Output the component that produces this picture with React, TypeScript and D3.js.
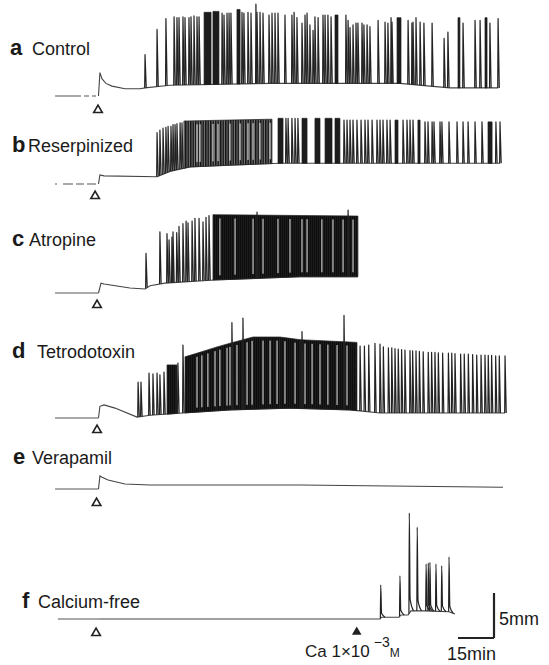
import React from "react";
import * as d3 from "d3";

// time: min after the stimulus (open triangle); tension: mm above resting level
const letters = ["a", "b", "c", "d", "e", "f"];
const names = ["Control", "Reserpinized", "Atropine", "Tetrodotoxin", "Verapamil", "Calcium-free"];
const stimulusTimes = [0, -1.2, -0.4, -0.4, -0.6, -0.8];
const calciumTime = 107.8;

// resting level knots [t, mm]
const baseA = [[-17.9, 0], [0.2, 0], [0.8, 2.6], [1.7, 1.9], [3.3, 1.4], [5.8, 1.1], [11.25, 0.8], [17.5, 0.8], [19.6, 0.9], [30, 1.2], [71.7, 1.4], [125.8, 1.4], [138.3, 1.1], [146.7, 0.9], [166.7, 0.9]];
const baseB = [[-17.9, 0], [0.2, 0], [0.8, 1.0], [2.5, 0.9], [24.6, 0.8], [30, 1.4], [38.3, 1.9], [55, 2.1], [75.8, 2.3], [167.5, 2.3]];
const baseC = [[-17.9, 0], [0.2, 0], [1.25, 1.1], [2.5, 1.0], [13.3, 0.55], [19.6, 0.45], [21.7, 0.8], [27.9, 1.1], [48.75, 1.45], [84.2, 1.8], [108.3, 1.8]];
const baseD = [[-17.9, 0], [0.2, 0], [0.8, 1.3], [2.5, 1.45], [7.1, 1.1], [16.25, 0.1], [21.7, 0.3], [35.4, 0.55], [55, 0.9], [80, 1.1], [105, 0.9], [117.5, 0.55], [169.6, 0.55]];
const baseE = [[-17.9, 0], [0.2, 0], [0.8, 1.45], [1.7, 1.3], [4.2, 1.0], [11.25, 0.55], [21.7, 0.45], [84.2, 0.45], [168.75, 0.2]];
const baseF = [[-16.7, 0], [117.5, 0], [118.1, 0.2], [125.4, 0.2], [126.25, 0.45], [129.2, 0.45], [130.4, 0.9], [136.25, 0.9], [146.25, 0.8], [148.75, 0.55]];

// single contractions [t, peak mm]
const spikesA = [
  [19.6, 4.6], [24.6, 7.4], [28.3, 8.6], [31.7, 8.8], [32.9, 8.7], [33.75, 8.7], [35.4, 8.8], [36.25, 8.7], [37.9, 8.7], [38.75, 8.8], [40, 8.9], [41.25, 8.8], [42.1, 8.8],
  [51.7, 9.2], [52.5, 9.0], [53.75, 9.2], [54.6, 9.2], [55.4, 9.2],
  [60, 9.3], [60.8, 9.2], [62.5, 9.3], [63.75, 9.2], [65.8, 10.2], [66.25, 9.3], [67.5, 9.3], [68.75, 9.2], [71.25, 9.0], [72.5, 9.2], [73.75, 9.2], [75, 9.2], [77.9, 9.0], [80.8, 9.0], [81.7, 9.3], [82.9, 8.7], [85, 8.1], [86.25, 9.0], [87.1, 9.2], [88.3, 7.9], [89.6, 7.3], [90.4, 8.8], [91.7, 8.7], [93.75, 9.0], [94.6, 9.0], [95.8, 9.0], [97.1, 8.8],
  [103.3, 9.0], [104.2, 8.4], [105, 7.6], [106.25, 7.9], [107.5, 8.1], [108.3, 8.1], [110, 8.1], [110.8, 7.9], [112.1, 7.9], [113.3, 7.7], [116.7, 8.4], [119.6, 8.2], [120.8, 8.1], [122.1, 8.7], [122.5, 8.2],
  [129.2, 8.4], [130.8, 8.1], [131.25, 8.2], [132.5, 8.7], [134.2, 8.2], [135.8, 8.1], [139.2, 8.1], [144.2, 6.4], [145.8, 7.1], [152.1, 8.1], [157.1, 8.4], [159.2, 8.4], [163.3, 8.1], [166.7, 8.6],
];
const spikesB = [
  [24.6, 5.7], [25.8, 6.0], [27.1, 6.2], [28.3, 6.3], [29.2, 6.4], [30.4, 6.4], [31.25, 6.6], [32.1, 6.6], [32.9, 6.7], [34.2, 6.8], [35, 6.8],
  [78.3, 7.3], [79.2, 7.3], [80.8, 7.3], [82.1, 7.3], [83.3, 7.3],
  [102.5, 7.1], [103.75, 7.1], [105, 7.1], [106.25, 7.1], [107.9, 7.1], [109.6, 7.1], [111.25, 7.1], [112.5, 7.1], [114.2, 7.1], [116.25, 7.1], [117.5, 7.1], [118.75, 7.1], [120.4, 7.1], [121.7, 7.1],
  [127.1, 7.1], [128.75, 7.1], [130, 7.1], [131.25, 7.1],
  [136.25, 6.9], [137.5, 6.9], [139.2, 6.9], [140, 6.9], [142.5, 6.9], [143.3, 6.9], [146.25, 6.9], [149.6, 6.9], [152.1, 6.9], [154.2, 6.9], [157.1, 6.9], [160, 6.9], [165.8, 6.9], [167.5, 6.9],
];
const spikesC = [
  [20, 4.4], [25.8, 6.8], [28.75, 6.6], [29.6, 5.9], [30.8, 6.2], [31.25, 6.8], [32.8, 6.7], [33.75, 7.4], [35.4, 7.7], [36.7, 8.0], [37.5, 7.8], [39.2, 8.0], [40.4, 8.3], [42.1, 8.3], [43.75, 7.9], [45, 8.4], [46.25, 8.6],
  [66.25, 9.0], [104.2, 9.2],
];
const spikesD = [
  [16.7, 4.0], [17.9, 4.0], [21.25, 5.0], [22.9, 4.9], [24.6, 5.0], [25.8, 4.8], [27.5, 5.1], [33.3, 6.1], [35.4, 8.1],
  [55.8, 10.6], [60.4, 11.1], [85, 9.6], [102.5, 11.4],
  [109.2, 8.0], [111, 8.0], [112.8, 8.1], [115.4, 8.3], [117.5, 8.2], [118.9, 7.9], [121, 7.8], [122.4, 7.8], [123.75, 7.7], [125.1, 7.65], [126.5, 7.6], [127.9, 7.55], [130, 7.5], [131.1, 7.45], [132.5, 7.45], [133.9, 7.4], [135.5, 7.35], [137.6, 7.3], [139, 7.3], [140.4, 7.3], [141.8, 7.25], [143.6, 7.2], [146, 7.2], [147.4, 7.2], [148.75, 7.15], [151.1, 7.1], [152.6, 7.1], [154.3, 7.1], [156.1, 7.05], [157.8, 7.0], [159.6, 7.0], [161.25, 7.0], [162.6, 6.95], [164, 6.95], [165.7, 6.9], [167.2, 6.9], [169.6, 6.9],
];
const spikesE: number[][] = [];
const spikesF = [[117.8, 3.8], [125.8, 4.8], [129.7, 11.8], [133, 10.2], [136.7, 6.1], [137.6, 6.2], [138.3, 6.3], [140.8, 6.1], [143.2, 5.9], [146.25, 6.9]];

// fused runs of contractions [t start, t end, top mm at start, top mm at end]
const burstsA = [[44.2, 47.1, 9.3, 9.3], [47.9, 50.4, 9.4, 9.4], [57.9, 59.2, 9.6, 9.6], [98.75, 100, 9.0, 9.0], [124.6, 126.25, 8.7, 8.7], [150, 150.8, 8.7, 8.7], [161.25, 162.1, 8.7, 8.7]];
const burstsB = [[35.8, 72.5, 7.0, 7.2], [75, 77.1, 7.3, 7.3], [85, 87.1, 7.3, 7.3], [90.4, 92.5, 7.3, 7.3], [94.6, 97.5, 7.3, 7.3], [98.75, 100.8, 7.3, 7.3], [123.75, 125, 7.1, 7.1], [133.3, 134.2, 7.1, 7.1], [162.5, 164.2, 6.9, 6.9]];
const burstsC = [[47.9, 108.3, 8.7, 8.55]];
const burstsD = [[28.75, 32.9, 5.9, 5.9], [36.25, 42.5, 6.8, 7.3], [42.5, 49.6, 7.3, 7.9], [49.6, 56.25, 7.9, 8.4], [56.25, 64.6, 8.4, 9.0], [64.6, 75.8, 9.0, 9.0], [75.8, 84.2, 9.0, 8.7], [84.2, 107.9, 8.7, 8.4]];
const burstsE: number[][] = [];
const burstsF: number[][] = [];

// pauses inside fused runs [t]
const gapsA: number[] = [];
const gapsB = [41.25, 42.5, 47.9, 50, 55, 59.2, 62.5, 64.6, 67.5, 71.7];
const gapsC = [50.8, 57.1, 64.6, 68.75, 75, 80, 85, 87.1, 93.3, 97.9, 102.1, 106.25];
const gapsD = [41.25, 43.3, 45.8, 48.75, 50.8, 53.75, 55, 57.9, 62.1, 64.2, 68.75, 71.7, 74.6, 77.9, 82.1, 86.25, 89.2, 92.5, 95.8, 99.6, 103.75];
const gapsE: number[] = [];
const gapsF: number[] = [];

const bases = [baseA, baseB, baseC, baseD, baseE, baseF];
const spikes = [spikesA, spikesB, spikesC, spikesD, spikesE, spikesF];
const bursts = [burstsA, burstsB, burstsC, burstsD, burstsE, burstsF];
const gaps = [gapsA, gapsB, gapsC, gapsD, gapsE, gapsF];

const FONT = "'Liberation Sans', Arial, Helvetica, sans-serif";

export default function App() {
  const W = 549;
  const H = 665;
  const stimX = 98;
  const pxPerMin = 2.4;
  const pxPerMm = 9;
  const x = d3.scaleLinear().domain([0, 15]).range([stimX, stimX + 15 * pxPerMin]);

  const rows = [
    { y0: 96, labelY: 55, letterX: 10, nameX: 32, markY: 110, fill: "url(#denseDark)", dash: "26 3 5 3 4 3" },
    { y0: 184, labelY: 152, letterX: 12, nameX: 28, markY: 196, fill: "url(#denseGrey)", dash: "2 6 10 3 8 3 9 3" },
    { y0: 293, labelY: 246, letterX: 12, nameX: 29, markY: 305, fill: "url(#denseDark)", dash: "" },
    { y0: 418, labelY: 358, letterX: 12, nameX: 37, markY: 430, fill: "url(#denseDark)", dash: "" },
    { y0: 489, labelY: 464, letterX: 13, nameX: 32, markY: 503, fill: "#222", dash: "" },
    { y0: 619, labelY: 608, letterX: 22, nameX: 38, markY: 633, fill: "#222", dash: "" },
  ];

  const ink = "#222";
  const tri = d3.symbol(d3.symbolTriangle, 32)();
  const triFilled = d3.symbol(d3.symbolTriangle, 40)();

  return (
    <svg width={W} height={H} style={{ position: "absolute", left: 0, top: 0, background: "#fff" }} fontFamily={FONT}>
      <defs>
        <pattern id="denseDark" patternUnits="userSpaceOnUse" width={2} height={10}>
          <rect width={2} height={10} fill="#333" />
          <rect width={1.6} height={10} fill="#0d0d0d" />
        </pattern>
        <pattern id="denseGrey" patternUnits="userSpaceOnUse" width={2.5} height={10}>
          <rect width={2.5} height={10} fill="#777" />
          <rect width={1.5} height={10} fill="#151515" />
        </pattern>
      </defs>
      <rect width={W} height={H} fill="#fff" />
      {rows.map((r, i) => {
        const y = d3.scaleLinear().domain([0, 5]).range([r.y0, r.y0 - 5 * pxPerMm]);
        const knots = bases[i];
        const base = d3.scaleLinear().domain(knots.map((k) => k[0])).range(knots.map((k) => k[1])).clamp(true);
        const line = d3.line<number[]>().x((d) => x(d[0])).y((d) => y(d[1]));
        const isF = i === 5;
        const cut = [0.2, base(0.2)];
        const pre = [...knots.filter((k) => k[0] < 0.2), cut];
        const post = [cut, ...knots.filter((k) => k[0] > 0.2)];
        const spikePath = (t: number, peak: number) => {
          if (isF) {
            const b = base(t + 1.8);
            return d3.line<number[]>().x((d) => x(d[0])).y((d) => y(d[1])).curve(d3.curveMonotoneX)([
              [t - 0.15, base(t - 0.15)], [t, peak], [t + 0.35, b + (peak - b) * 0.12], [t + 1.8, b],
            ]);
          }
          return line([[t - 0.15, base(t - 0.15)], [t, peak], [t + 0.5, base(t + 0.5)]]);
        };
        const burstArea = (bst: number[]) => {
          const [t0, t1, a0, a1] = bst;
          const top = d3.scaleLinear().domain([t0, t1]).range([a0, a1]);
          const ts = [t0, ...knots.map((k) => k[0]).filter((t) => t > t0 && t < t1), t1];
          return d3.area<number>().x((t) => x(t)).y0((t) => y(base(t))).y1((t) => y(top(t)))(ts);
        };
        const topAt = (t: number) => {
          const b = bursts[i].find((bs) => t >= bs[0] && t <= bs[1]);
          if (!b) return null;
          return d3.scaleLinear().domain([b[0], b[1]]).range([b[2], b[3]])(t);
        };
        const bigBurst = (b: number[]) => b[1] - b[0] > 3.5;
        return (
          <g key={i}>
            <text x={r.letterX} y={r.labelY} fontSize={22} fontWeight="bold" fill="#1a1a1a">{letters[i]}</text>
            <text x={r.nameX} y={r.labelY} fontSize={18} fill="#1a1a1a">{names[i]}</text>
            <path d={line(pre) || ""} fill="none" stroke="#555" strokeWidth={1.1} strokeDasharray={r.dash || undefined} />
            <path d={line(post) || ""} fill="none" stroke="#444" strokeWidth={1.1} />
            {bursts[i].map((b, j) => (
              <path
                key={"b" + j}
                d={burstArea(b) || ""}
                fill={bigBurst(b) ? r.fill : "#1c1c1c"}
                stroke={bigBurst(b) ? "#222" : "#1c1c1c"}
                strokeWidth={0.7}
              />
            ))}
            {gaps[i].map((t, j) => {
              const top = topAt(t);
              if (top == null) return null;
              return (
                <line key={"g" + j} x1={x(t)} x2={x(t)} y1={y(base(t) + 0.5)} y2={y(top - 0.4)} stroke="#fff" strokeWidth={0.9} />
              );
            })}
            {spikes[i].map((s, j) => (
              <path key={"s" + j} d={spikePath(s[0], s[1]) || ""} fill="none" stroke={ink} strokeWidth={1.2} strokeLinejoin="round" />
            ))}
            <path d={tri || ""} transform={`translate(${x(stimulusTimes[i])},${r.markY})`} fill="#fff" stroke={ink} strokeWidth={1.6} />
          </g>
        );
      })}

      {/* Ca re-admission in f */}
      <path d={triFilled || ""} transform={`translate(${x(calciumTime)},${632})`} fill={ink} />
      <text x={305} y={657} fontSize={17} fill="#1a1a1a">
        Ca 1×10
        <tspan dx={4} dy={-10} fontSize={14}>−3</tspan>
        <tspan dy={10} fontSize={12}>M</tspan>
      </text>

      {/* calibration */}
      {(() => {
        const bx = 494;
        const by = 638;
        return (
          <g stroke={ink} strokeWidth={2.2} fill="none">
            <line x1={bx} x2={bx} y1={by} y2={by - 5 * pxPerMm} />
            <line x1={bx - (x(15) - x(0))} x2={bx} y1={by} y2={by} />
          </g>
        );
      })()}
      <text x={499} y={625} fontSize={18} fill="#1a1a1a">5mm</text>
      <text x={447} y={660} fontSize={18} fill="#1a1a1a">15min</text>
    </svg>
  );
}
